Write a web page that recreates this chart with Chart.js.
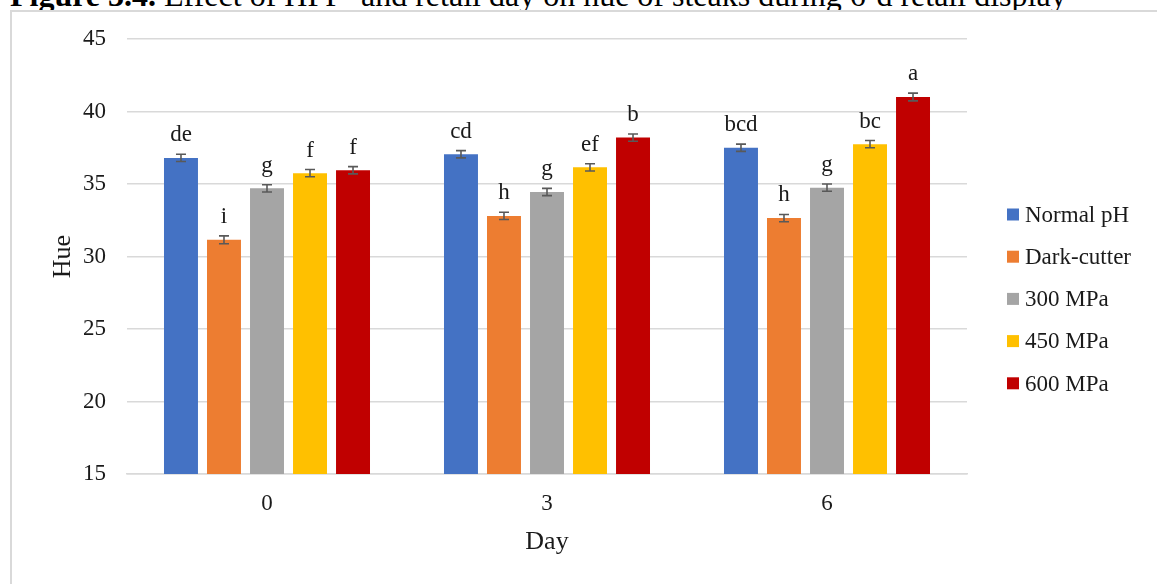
<!DOCTYPE html>
<html>
<head>
<meta charset="utf-8">
<script src="https://cdn.jsdelivr.net/npm/chart.js@4.4.1/dist/chart.umd.min.js"></script>
<style>
  html, body { margin: 0; padding: 0; background: #fff; overflow: hidden; }
  body { width: 1157px; height: 584px; position: relative; }
  #caption {
    position: absolute; left: 10px; top: -23px; margin: 0;
    font-family: "Liberation Serif", "Times New Roman", serif;
    font-size: 32px; line-height: 1; color: #000; white-space: nowrap;
  }
  #caption b { font-weight: bold; }
  #caption sup { font-size: 20px; }
  #frame {
    position: absolute; left: 10px; top: 10px; width: 1200px; height: 620px;
    border: 2px solid #d9d9d9; background: #fff;
  }
  #chart { position: absolute; left: 0; top: 0; }
</style>
</head>
<body>
<p id="caption"><b>Figure 3.4.</b> Effect of HPP<sup>1</sup> and retail day on hue of steaks during 6-d retail display</p>
<div id="frame"><canvas id="chart" width="1145" height="572"></canvas></div>
<script>
// Retail display day (x categories)
const days = ['0', '3', '6'];

// Treatment names
const seriesNames = ['Normal pH', 'Dark-cutter', '300 MPa', '450 MPa', '600 MPa'];

// Mean hue per day
const normalPH   = [36.8, 37.05, 37.5];
const darkCutter = [31.15, 32.8, 32.65];
const mpa300     = [34.7, 34.45, 34.75];
const mpa450     = [35.75, 36.15, 37.75];
const mpa600     = [35.95, 38.2, 41.0];

// Standard errors
const seNormal = [0.25, 0.25, 0.25];
const seDark   = [0.27, 0.25, 0.25];
const se300    = [0.25, 0.25, 0.25];
const se450    = [0.25, 0.25, 0.25];
const se600    = [0.25, 0.25, 0.27];

// Mean separation letters
const lettersNormal = ['de', 'cd', 'bcd'];
const lettersDark   = ['i', 'h', 'h'];
const letters300    = ['g', 'g', 'g'];
const letters450    = ['f', 'ef', 'bc'];
const letters600    = ['f', 'b', 'a'];

// Y axis ticks
const yTicks = [15, 20, 25, 30, 35, 40, 45];

const colors = ['#4472C4', '#ED7D31', '#A5A5A5', '#FFC000', '#C00000'];
const FONT = '"Liberation Serif", "Times New Roman", serif';
const TEXT = '#1a1a1a';

const values = [normalPH, darkCutter, mpa300, mpa450, mpa600];
const errors = [seNormal, seDark, se300, se450, se600];
const letters = [lettersNormal, lettersDark, letters300, letters450, letters600];

const datasets = seriesNames.map((name, i) => ({
  label: name,
  data: values[i],
  backgroundColor: colors[i],
  borderWidth: 0,
  errors: errors[i],
  letters: letters[i],
  categoryPercentage: 0.768,
  barPercentage: 0.79
}));

// Error bars and significance letters above each bar
const errorBarsPlugin = {
  id: 'errorBars',
  afterDatasetsDraw(chart) {
    const ctx = chart.ctx;
    const y = chart.scales.y;
    ctx.save();
    chart.data.datasets.forEach((ds, di) => {
      const meta = chart.getDatasetMeta(di);
      meta.data.forEach((bar, i) => {
        const v = ds.data[i];
        const e = ds.errors[i];
        const top = y.getPixelForValue(v + e);
        const bot = y.getPixelForValue(v - e);
        const x = bar.x;
        ctx.strokeStyle = '#595959';
        ctx.lineWidth = 1.6;
        ctx.beginPath();
        ctx.moveTo(x, top); ctx.lineTo(x, bot);
        ctx.moveTo(x - 5, top); ctx.lineTo(x + 5, top);
        ctx.moveTo(x - 5, bot); ctx.lineTo(x + 5, bot);
        ctx.stroke();
        ctx.fillStyle = TEXT;
        ctx.font = '23px ' + FONT;
        ctx.textAlign = 'center';
        ctx.textBaseline = 'alphabetic';
        ctx.fillText(ds.letters[i], x, top - 13);
      });
    });
    ctx.restore();
  }
};

// Legend column to the right of the plot
const sideLegendPlugin = {
  id: 'sideLegend',
  afterDraw(chart) {
    const ctx = chart.ctx;
    const area = chart.chartArea;
    const x0 = area.right + 40;
    const y0 = area.top + 175.5;
    const step = 42.2;
    ctx.save();
    ctx.font = '23px ' + FONT;
    ctx.textAlign = 'left';
    ctx.textBaseline = 'alphabetic';
    chart.data.datasets.forEach((ds, i) => {
      const cy = y0 + i * step;
      ctx.fillStyle = ds.backgroundColor;
      ctx.fillRect(x0, cy - 6, 12, 12);
      ctx.fillStyle = TEXT;
      ctx.fillText(ds.label, x0 + 18, cy + 7.2);
    });
    ctx.restore();
  }
};

new Chart(document.getElementById('chart'), {
  type: 'bar',
  data: { labels: days, datasets },
  options: {
    responsive: false,
    animation: false,
    devicePixelRatio: 1,
    layout: { padding: { top: 27, right: 190, left: 0, bottom: 0 } },
    plugins: {
      legend: { display: false },
      tooltip: { enabled: false },
      title: { display: false }
    },
    scales: {
      x: {
        grid: { display: false, drawTicks: false },
        border: { display: true, color: '#d9d9d9', width: 1.5 },
        ticks: { font: { family: FONT, size: 23 }, color: TEXT, padding: 16 },
        title: { display: true, text: 'Day', font: { family: FONT, size: 26 }, color: TEXT, padding: { top: 0, bottom: 26 } },
        afterFit(scale) { scale.height = 110; }
      },
      y: {
        min: 15,
        max: 45,
        afterBuildTicks(scale) { scale.ticks = yTicks.map(v => ({ value: v })); },
        grid: { color: '#d9d9d9', lineWidth: 1.5, drawTicks: false },
        border: { display: false },
        ticks: { font: { family: FONT, size: 23 }, color: TEXT, padding: 21 },
        title: { display: true, text: 'Hue', font: { family: FONT, size: 26 }, color: TEXT, padding: { top: 36, bottom: 0 } },
        afterFit(scale) {
          scale.width = 115;
          scale.paddingTop = 14;
          scale.paddingBottom = 14;
        }
      }
    }
  },
  plugins: [errorBarsPlugin, sideLegendPlugin]
});
</script>
</body>
</html>
